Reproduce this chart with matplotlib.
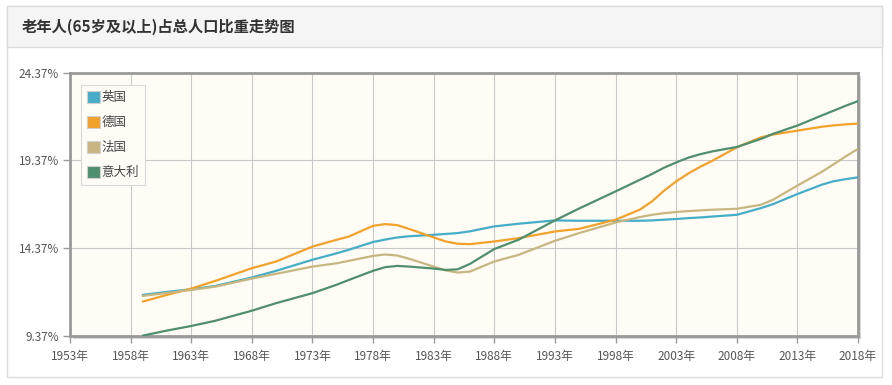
import matplotlib
matplotlib.use("Agg")
import matplotlib.pyplot as plt
from matplotlib.patches import Rectangle, Patch

plt.rcParams['font.family'] = ['Noto Sans CJK SC', 'DejaVu Sans']

title = "老年人(65岁及以上)占总人口比重走势图"
series_names = ["英国", "德国", "法国", "意大利"]
colors = ["#45adc7", "#f2a12a", "#c8b680", "#4f8f6e"]

years = [1959, 1961, 1963, 1965, 1968, 1970, 1973, 1975, 1976, 1978, 1979, 1980,
         1981, 1983, 1984, 1985, 1986, 1988, 1990, 1993, 1995, 1998, 2000, 2001,
         2002, 2003, 2004, 2005, 2006, 2008, 2010, 2011, 2013, 2015, 2016, 2017, 2018]

uk = [11.71, 11.88, 12.03, 12.22, 12.70, 13.08, 13.71, 14.08, 14.28, 14.72, 14.86, 14.98,
      15.05, 15.13, 15.18, 15.23, 15.33, 15.61, 15.76, 15.95, 15.93, 15.93, 15.93, 15.95,
      15.99, 16.03, 16.08, 16.12, 16.17, 16.27, 16.65, 16.88, 17.45, 17.98, 18.18, 18.30, 18.40]
germany = [11.33, 11.71, 12.07, 12.51, 13.23, 13.61, 14.46, 14.85, 15.03, 15.64, 15.74, 15.68,
           15.46, 14.98, 14.75, 14.62, 14.60, 14.75, 14.94, 15.32, 15.47, 15.99, 16.56, 17.03,
           17.64, 18.17, 18.62, 19.01, 19.35, 20.11, 20.68, 20.84, 21.06, 21.28, 21.36, 21.42, 21.46]
france = [11.65, 11.82, 11.99, 12.18, 12.64, 12.91, 13.32, 13.51, 13.65, 13.93, 14.01, 13.95,
          13.76, 13.32, 13.10, 12.98, 13.04, 13.61, 13.99, 14.79, 15.23, 15.83, 16.14, 16.27,
          16.36, 16.43, 16.48, 16.52, 16.56, 16.61, 16.84, 17.13, 17.93, 18.71, 19.15, 19.60, 20.02]
italy = [9.39, 9.68, 9.94, 10.24, 10.81, 11.24, 11.81, 12.29, 12.56, 13.08, 13.29, 13.36,
         13.32, 13.21, 13.13, 13.17, 13.48, 14.32, 14.85, 15.95, 16.63, 17.60, 18.26, 18.59,
         18.95, 19.25, 19.52, 19.72, 19.88, 20.13, 20.59, 20.88, 21.35, 21.92, 22.20, 22.48, 22.74]

y_ticks = [9.37, 14.37, 19.37, 24.37]
x_ticks = list(range(1953, 2019, 5))
x_labels = [f"{y}年" for y in x_ticks]

W, H = 892, 385
fig = plt.figure(figsize=(W / 100, H / 100), dpi=100)
fig.patch.set_facecolor("white")

def fx(px):
    return px / W

def fy(py):
    return 1 - py / H

# card
fig.patches.append(Rectangle((fx(7), fy(377)), fx(875), (377 - 6) / H, transform=fig.transFigure,
                             facecolor="white", edgecolor="#dcdcdc", lw=1, zorder=-3))
fig.patches.append(Rectangle((fx(7), fy(47)), fx(875), (47 - 6) / H, transform=fig.transFigure,
                             facecolor="#f5f5f5", edgecolor="#dcdcdc", lw=1, zorder=-2))
fig.text(fx(22), fy(27), title, fontsize=11, fontweight="bold", color="#333333",
         va="center", ha="left")

# axes
ax_l, ax_r, ax_t, ax_b = 70, 858, 72.5, 336
# shadow
fig.patches.append(Rectangle((fx(ax_l + 3), fy(ax_b + 3)), fx(ax_r - ax_l), (ax_b - ax_t) / H,
                             transform=fig.transFigure, facecolor="#d6d6d6", edgecolor="none", zorder=-1))
ax = fig.add_axes([fx(ax_l), fy(ax_b), fx(ax_r - ax_l), (ax_b - ax_t) / H])
ax.set_zorder(5)
ax.set_facecolor("#fffcf5")

data = [uk, germany, france, italy]
for name, vals, c in zip(series_names, data, colors):
    ax.plot(years, vals, color=c, lw=1.6, solid_capstyle="round", solid_joinstyle="round", zorder=3)

ax.set_xlim(1953, 2018)
ax.set_ylim(9.37, 24.37)
ax.set_xticks(x_ticks)
ax.set_xticklabels(x_labels)
ax.set_yticks(y_ticks)
ax.set_yticklabels([f"{v:.2f}%" for v in y_ticks])
ax.grid(True, color="#c8c8c8", lw=0.8)
ax.set_axisbelow(True)
ax.tick_params(axis="both", colors="#999999", labelcolor="#555555", labelsize=8.5,
               length=5, width=1)
ax.tick_params(axis="x", pad=5)
ax.tick_params(axis="y", pad=3)
for s in ax.spines.values():
    s.set_color("#999999")
    s.set_linewidth(2)

handles = [Patch(facecolor=c, edgecolor="#d0d0d0", lw=0.8) for c in colors]
leg = ax.legend(handles, series_names, loc="upper left",
                bbox_to_anchor=((81 - ax_l) / (ax_r - ax_l), (ax_b - 85) / (ax_b - ax_t)),
                borderaxespad=0, fontsize=9, handlelength=1.1, handleheight=1.1,
                handletextpad=0.1, labelspacing=0.95, borderpad=0.45,
                fancybox=False, frameon=True, framealpha=1)
leg.get_frame().set_edgecolor("#d8d8d8")
leg.get_frame().set_facecolor("#fffcf5")
leg.get_frame().set_linewidth(0.8)
for t in leg.get_texts():
    t.set_color("#444444")

fig.savefig("out.png", dpi=100)
